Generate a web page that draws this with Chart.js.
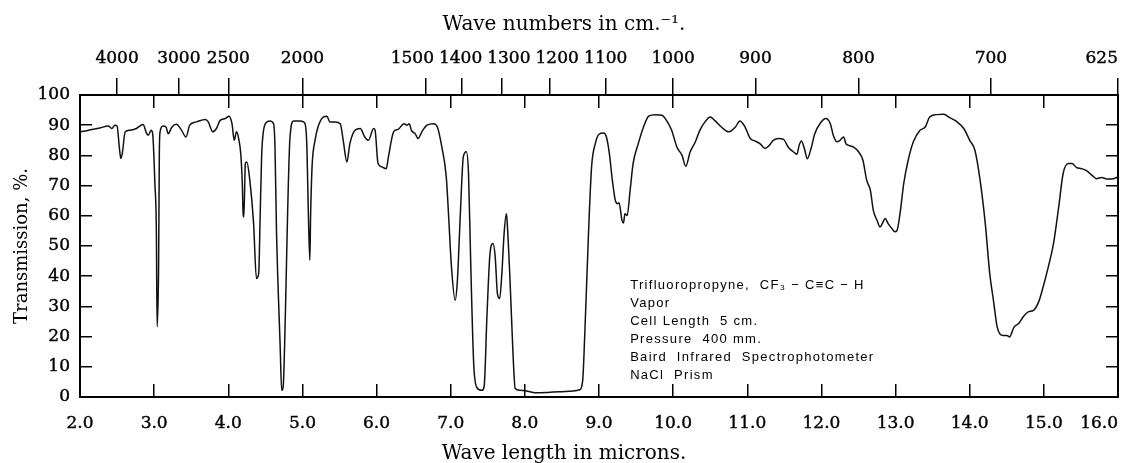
<!DOCTYPE html>
<html>
<head>
<meta charset="utf-8">
<title>Trifluoropropyne infrared spectrum</title>
<script src="https://cdn.jsdelivr.net/npm/chart.js@4.4.1/dist/chart.umd.min.js"></script>
<style>
  html, body { margin: 0; padding: 0; background: #fff; }
  #wrap { width: 1128px; height: 463px; }
</style>
</head>
<body>
<div id="wrap"><canvas id="irChart"></canvas></div>
<script>
// Wave length in microns (bottom axis)
const wavelengths = [
  2.00, 2.07, 2.16, 2.27, 2.38, 2.43, 2.47, 2.50, 2.53, 2.55, 2.57, 2.61,
  2.67, 2.76, 2.85, 2.90, 2.92, 2.96, 2.98, 3.01, 3.03, 3.04, 3.06, 3.07,
  3.08, 3.12, 3.16, 3.19, 3.24, 3.30, 3.37, 3.43, 3.48, 3.57, 3.69, 3.73,
  3.79, 3.84, 3.89, 3.96, 4.01, 4.05, 4.08, 4.11, 4.14, 4.17, 4.19, 4.20,
  4.21, 4.23, 4.25, 4.29, 4.34, 4.38, 4.41, 4.43, 4.45, 4.47, 4.50, 4.56,
  4.61, 4.63, 4.65, 4.70, 4.72, 4.74, 4.77, 4.80, 4.83, 4.88, 4.97, 5.03,
  5.06, 5.08, 5.10, 5.11, 5.13, 5.17, 5.21, 5.28, 5.33, 5.37, 5.44, 5.51,
  5.55, 5.60, 5.64, 5.71, 5.78, 5.84, 5.89, 5.96, 5.98, 6.02, 6.07, 6.13,
  6.16, 6.23, 6.29, 6.37, 6.41, 6.44, 6.47, 6.52, 6.56, 6.61, 6.68, 6.77,
  6.82, 6.88, 6.94, 6.97, 7.01, 7.06, 7.09, 7.13, 7.17, 7.21, 7.24, 7.27,
  7.31, 7.35, 7.42, 7.45, 7.49, 7.53, 7.57, 7.60, 7.63, 7.66, 7.69, 7.72,
  7.75, 7.76, 7.80, 7.84, 7.87, 7.93, 8.02, 8.14, 8.30, 8.47, 8.65, 8.74,
  8.78, 8.81, 8.86, 8.90, 8.95, 9.00, 9.06, 9.10, 9.14, 9.18, 9.22, 9.25,
  9.27, 9.31, 9.33, 9.35, 9.38, 9.42, 9.46, 9.53, 9.60, 9.67, 9.76, 9.85,
  9.91, 9.98, 10.05, 10.12, 10.17, 10.23, 10.30, 10.36, 10.43, 10.50, 10.56, 10.65,
  10.75, 10.84, 10.90, 10.97, 11.04, 11.10, 11.17, 11.24, 11.30, 11.35, 11.42, 11.49,
  11.55, 11.62, 11.67, 11.70, 11.73, 11.77, 11.81, 11.86, 11.91, 11.98, 12.06, 12.12,
  12.16, 12.21, 12.25, 12.30, 12.33, 12.36, 12.43, 12.50, 12.56, 12.61, 12.66, 12.70,
  12.75, 12.79, 12.83, 12.86, 12.90, 12.95, 12.99, 13.02, 13.06, 13.11, 13.17, 13.24,
  13.33, 13.40, 13.46, 13.55, 13.65, 13.73, 13.83, 13.92, 14.00, 14.07, 14.14, 14.21,
  14.27, 14.32, 14.37, 14.41, 14.45, 14.50, 14.54, 14.57, 14.60, 14.66, 14.72, 14.79,
  14.86, 14.93, 14.99, 15.06, 15.13, 15.20, 15.26, 15.33, 15.38, 15.44, 15.51, 15.58,
  15.65, 15.71, 15.78, 15.85, 15.94, 16.00
];

// Transmission, %
const transmission = [
  87.8, 88.1, 88.6, 89.1, 89.7, 88.9, 90.0, 89.7, 82.8, 79.0, 80.6, 87.8,
  88.3, 88.9, 90.2, 87.2, 86.7, 88.3, 87.2, 70.7, 55.0, 23.2, 43.0, 80.6,
  87.8, 89.7, 89.4, 87.2, 89.4, 90.3, 88.3, 86.1, 90.0, 91.1, 91.9, 91.1,
  87.8, 88.9, 91.6, 92.2, 93.0, 90.5, 85.0, 87.8, 85.6, 80.0, 70.0, 60.7,
  59.6, 77.3, 77.8, 71.8, 58.0, 39.2, 40.9, 60.0, 80.0, 87.2, 90.5, 91.4,
  90.5, 82.8, 55.2, 16.6, 2.2, 3.3, 27.6, 60.7, 85.0, 91.4, 91.4, 90.8,
  83.0, 60.7, 45.3, 59.6, 76.2, 85.0, 89.4, 92.7, 93.0, 91.1, 91.1, 90.5,
  85.0, 77.8, 83.9, 88.3, 88.9, 86.1, 85.0, 88.9, 88.3, 77.3, 76.2, 75.6,
  79.5, 87.8, 88.6, 90.5, 90.0, 90.5, 88.3, 87.2, 85.6, 87.8, 90.0, 90.5,
  89.4, 82.8, 72.9, 60.7, 43.1, 32.0, 38.6, 60.7, 79.5, 81.2, 74.0, 44.2,
  11.0, 3.3, 2.2, 3.3, 27.6, 47.5, 50.8, 46.4, 34.2, 32.6, 40.9, 54.1,
  60.7, 58.5, 38.6, 14.4, 2.8, 2.2, 2.0, 1.4, 1.5, 1.7, 2.0, 2.4,
  5.5, 22.0, 55.2, 76.2, 83.9, 87.0, 87.4, 86.1, 80.6, 71.8, 65.1, 64.0,
  64.3, 58.5, 57.6, 60.7, 60.1, 68.5, 77.3, 83.9, 89.4, 93.0, 93.5, 93.3,
  91.6, 88.3, 82.8, 80.0, 76.4, 81.2, 84.5, 88.3, 91.1, 92.7, 91.6, 89.4,
  87.8, 89.4, 91.4, 89.4, 85.6, 84.8, 83.9, 82.3, 83.4, 85.0, 85.6, 85.3,
  82.8, 81.2, 80.4, 83.4, 84.8, 82.3, 78.9, 82.3, 87.2, 90.5, 92.2, 90.5,
  86.7, 84.5, 85.0, 86.1, 83.9, 83.4, 82.8, 81.2, 78.4, 71.8, 68.5, 61.8,
  58.5, 56.3, 57.9, 59.1, 57.4, 55.8, 54.7, 55.2, 60.7, 70.7, 78.4, 84.5,
  88.3, 89.4, 92.7, 93.5, 93.6, 92.5, 91.1, 88.9, 85.0, 81.7, 71.8, 57.4,
  40.9, 32.0, 23.2, 20.8, 20.4, 20.4, 19.9, 21.5, 23.2, 24.3, 26.5, 28.2,
  28.7, 31.5, 36.4, 43.1, 50.8, 62.9, 74.0, 77.3, 77.3, 76.0, 75.6, 74.9,
  73.4, 72.3, 72.7, 72.2, 72.3, 72.9
];

// Wave numbers on the top scale, cm-1 (placed at 10000 / n microns)
const waveNumbers = [4000, 3000, 2500, 2000, 1500, 1400, 1300, 1200, 1100, 1000, 900, 800, 700, 625];

// Sample notes printed inside the plot
const noteLines = [
  'Trifluoropropyne,  CF\u2083 \u2212 C\u2261C \u2212 H',
  'Vapor',
  'Cell Length  5 cm.',
  'Pressure  400 mm.',
  'Baird  Infrared  Spectrophotometer',
  'NaCl  Prism'
];

const serif = '"DejaVu Serif", "Liberation Serif", serif';
const notesAt = { x: 9.42, y: 37 };

// notes block, anchored in data units
const notesPlugin = {
  id: 'notes',
  afterDatasetsDraw(chart) {
    const { ctx, scales } = chart;
    const x0 = scales.x.getPixelForValue(notesAt.x);
    let y = scales.y.getPixelForValue(notesAt.y);
    ctx.save();
    ctx.fillStyle = '#000';
    ctx.font = '13px "Liberation Sans", Arial, sans-serif';
    ctx.letterSpacing = '1.3px';
    ctx.textBaseline = 'middle';
    ctx.textAlign = 'left';
    noteLines.forEach(line => {
      ctx.fillText(line, x0, y);
      y += 18;
    });
    ctx.restore();
  }
};

// last label of the horizontal axes stays inside the frame,
// crowded wave number labels are pushed apart
const labelFix = {
  id: 'labelFix',
  beforeDraw(chart) {
    const ctx = chart.ctx;
    ['x', 'x2'].forEach(id => {
      const items = chart.scales[id].getLabelItems();
      const last = items[items.length - 1];
      if (last) last.options.textAlign = 'right';
    });

    const items = chart.scales.x2.getLabelItems().slice(0, -1);
    ctx.save();
    const boxes = items.map(it => {
      ctx.font = it.font.string;
      return { it, w: ctx.measureText(it.label).width, x: it.options.translation[0] };
    });
    ctx.restore();
    const gap = 5;
    for (let pass = 0; pass < 80; pass++) {
      for (let i = 0; i < boxes.length - 1; i++) {
        const a = boxes[i], b = boxes[i + 1];
        const overlap = a.x + a.w / 2 + gap - (b.x - b.w / 2);
        if (overlap > 0) {
          a.x -= overlap / 2;
          b.x += overlap / 2;
        }
      }
    }
    boxes.forEach(b => { b.it.options.translation[0] = b.x; });
  }
};

const points = wavelengths.map((w, i) => ({ x: w, y: transmission[i] }));

const frame = { display: true, color: '#000', width: 2 };
const tickFont = { family: serif, size: 17 };
const tickInk = { color: '#000', textStrokeColor: '#000', textStrokeWidth: 0.4 };
const titleFont = { family: serif, size: 20, weight: 'normal', lineHeight: 0.8 };

new Chart(document.getElementById('irChart'), {
  type: 'line',
  data: {
    datasets: [{
      data: points,
      borderColor: '#111',
      borderWidth: 1.5,
      pointRadius: 0,
      fill: false,
      cubicInterpolationMode: 'monotone'
    }]
  },
  options: {
    responsive: true,
    maintainAspectRatio: false,
    animation: false,
    events: [],
    layout: { padding: 0 },
    plugins: {
      legend: { display: false },
      tooltip: { enabled: false },
      title: {
        display: true,
        text: 'Wave numbers in cm.\u207b\u00b9.',
        color: '#000',
        font: titleFont,
        padding: { top: 17, bottom: 0 }
      },
      subtitle: {
        display: true,
        position: 'bottom',
        text: 'Wave length in microns.',
        color: '#000',
        font: titleFont,
        padding: { top: 0, bottom: 1 }
      }
    },
    scales: {
      x: {
        type: 'linear',
        position: 'bottom',
        min: 2, max: 16,
        border: frame,
        grid: { drawOnChartArea: false, tickLength: -13, color: '#000', lineWidth: 1.5 },
        ticks: {
          ...tickInk, stepSize: 1, font: tickFont, padding: 29, maxRotation: 0, autoSkip: false,
          callback: v => v.toFixed(1)
        },
        afterFit: s => { s.height = 49; s.paddingLeft = 0; s.paddingRight = 0; }
      },
      x2: {
        axis: 'x',
        type: 'linear',
        position: 'top',
        weight: 1,
        min: 2, max: 16,
        border: frame,
        grid: { drawOnChartArea: false, tickLength: 17, color: '#000', lineWidth: 1.5 },
        afterBuildTicks: s => { s.ticks = waveNumbers.map(n => ({ value: 10000 / n })); },
        ticks: {
          ...tickInk, font: tickFont, padding: 9, maxRotation: 0, autoSkip: false,
          callback: (v, i) => String(waveNumbers[i])
        },
        afterFit: s => { s.height = 62; s.paddingLeft = 0; s.paddingRight = 0; }
      },
      x3: {
        axis: 'x',
        type: 'linear',
        position: 'top',
        weight: 0,
        min: 2, max: 16,
        border: frame,
        grid: { drawOnChartArea: false, tickLength: -13, color: '#000', lineWidth: 1.5 },
        ticks: { stepSize: 1, display: false },
        afterFit: s => { s.height = 0; s.paddingLeft = 0; s.paddingRight = 0; }
      },
      y: {
        type: 'linear',
        position: 'left',
        min: 0, max: 100,
        border: frame,
        grid: { drawOnChartArea: false, tickLength: -12, color: '#000', lineWidth: 1.5 },
        ticks: { ...tickInk, stepSize: 10, font: tickFont, padding: 22 },
        title: {
          display: true,
          text: 'Transmission, %.',
          color: '#000',
          font: { family: serif, size: 18, lineHeight: 1 },
          padding: { top: 13, bottom: 0 }
        },
        afterFit: s => { s.width = 80; }
      },
      y2: {
        type: 'linear',
        position: 'right',
        min: 0, max: 100,
        border: frame,
        grid: { drawOnChartArea: false, tickLength: -12, color: '#000', lineWidth: 1.5 },
        ticks: { stepSize: 10, display: false },
        afterFit: s => { s.width = 10; }
      }
    }
  },
  plugins: [notesPlugin, labelFix]
});
</script>
</body>
</html>
